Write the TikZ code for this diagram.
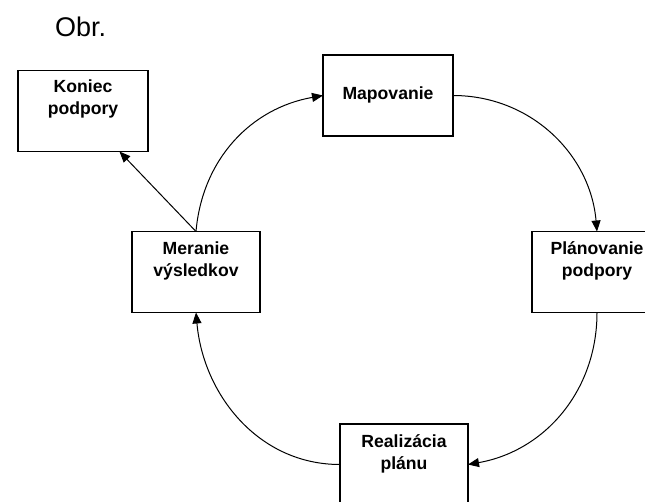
\documentclass[tikz,border=0pt]{standalone}
\usepackage{fontspec}
\setmainfont{Liberation Sans}
\usetikzlibrary{arrows.meta}
\begin{document}
\begin{tikzpicture}[x=1pt,y=1pt,
  box/.style={draw, line width=1.3pt, minimum width=130pt, minimum height=81pt, inner sep=0pt, outer sep=0pt},
  lbl/.style={font=\fontsize{17.6}{22}\selectfont\bfseries, align=center, inner sep=0pt},
  conn/.style={line width=1pt, -{Triangle[length=11pt,width=9pt]}}]
\useasboundingbox (0,0) rectangle (645,-501);
\clip (0,0) rectangle (645,-501);
\node[font=\fontsize{27}{30}\selectfont, anchor=base west, inner sep=0pt] (obr) at (55,-36) {Obr.};
\node[box] (kon) at (83,-111) {};
\node[box] (map) at (388,-95.5) {};
\node[box] (plan) at (597,-272) {};
\node[box, minimum width=128pt] (mer) at (196,-272) {};
\node[box, minimum width=128pt] (real) at (404,-464.5) {};
\node[lbl] (tkon) at (83,-99) {Koniec\\podpory};
\node[lbl] (tmap) at (388,-95) {Mapovanie};
\node[lbl] (tplan) at (597,-261) {Plánovanie\\podpory};
\node[lbl] (tmer) at (196,-261) {Meranie\\výsledkov};
\node[lbl] (treal) at (404,-454) {Realizácia\\plánu};
\draw[conn] (mer.north) to[out=85,in=190] (map.west);
\draw[conn] (map.east) to[out=0,in=95] (plan.north);
\draw[conn] (plan.south) to[out=-90,in=10] (real.east);
\draw[conn] (real.west) to[out=180,in=-85] (mer.south);
\draw[conn] (mer.north) -- (kon.-48.7);
\end{tikzpicture}
\end{document}
